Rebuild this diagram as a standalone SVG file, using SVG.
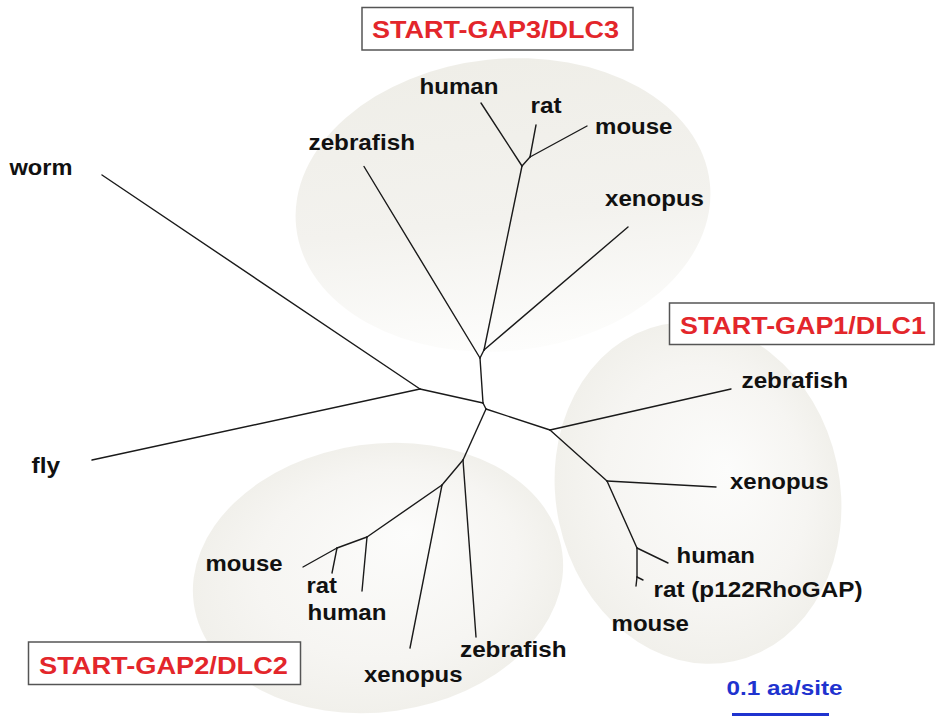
<svg xmlns="http://www.w3.org/2000/svg" width="936" height="723" viewBox="0 0 936 723">
<style>
.lbl{font-family:"Liberation Sans",Arial,Helvetica,sans-serif;font-weight:bold;font-size:22px;fill:#111}
.grp{font-family:"Liberation Sans",Arial,Helvetica,sans-serif;font-weight:bold;font-size:24px;fill:#e3262b}
.box{fill:#fff;stroke:#555;stroke-width:1.5}
.edge{stroke:#1a1a1a;stroke-width:1.4;fill:none;stroke-linecap:round}
.scale{font-family:"Liberation Sans",Arial,Helvetica,sans-serif;font-weight:bold;font-size:21px;fill:#1f33cf}
</style>
<defs>
<linearGradient id="g3" x1="0" y1="0" x2="0" y2="1">
<stop offset="0" stop-color="#efeee8"/><stop offset="0.55" stop-color="#f3f2ee"/><stop offset="1" stop-color="#fdfdfc"/>
</linearGradient>
<radialGradient id="g1" cx="0.5" cy="0.5" r="0.5" fx="0.62" fy="0.45">
<stop offset="0" stop-color="#fcfcfb"/><stop offset="0.7" stop-color="#f6f5f2"/><stop offset="1" stop-color="#f1f0eb"/>
</radialGradient>
<radialGradient id="g2" cx="0.5" cy="0.5" r="0.5" fx="0.6" fy="0.35">
<stop offset="0" stop-color="#fcfcfb"/><stop offset="0.7" stop-color="#f6f5f2"/><stop offset="1" stop-color="#f1f0eb"/>
</radialGradient>
</defs>
<rect width="936" height="723" fill="#fff"/>
<g id="regions">
<ellipse cx="503" cy="205" rx="208" ry="146" transform="rotate(-6 503 205)" fill="url(#g3)"/>
<ellipse cx="698" cy="493" rx="142" ry="172" transform="rotate(-12 698 493)" fill="url(#g1)"/>
<ellipse cx="378" cy="578" rx="186" ry="134" transform="rotate(-8 378 578)" fill="url(#g2)"/>
</g>
<g id="connectors">
<line class="edge" x1="420" y1="389" x2="102" y2="175"/>
<line class="edge" x1="420" y1="389" x2="92" y2="460"/>
<line class="edge" x1="420" y1="389" x2="483" y2="403"/>
<line class="edge" x1="480" y1="358" x2="483" y2="403"/>
<line class="edge" x1="483" y1="403" x2="486" y2="409"/>
<line class="edge" x1="480" y1="358" x2="364" y2="166.5"/>
<line class="edge" x1="480" y1="358" x2="484" y2="350"/>
<line class="edge" x1="484" y1="350" x2="628" y2="227"/>
<line class="edge" x1="484" y1="350" x2="522" y2="166"/>
<line class="edge" x1="522" y1="166" x2="481" y2="103"/>
<line class="edge" x1="522" y1="166" x2="530" y2="157"/>
<line class="edge" x1="530" y1="157" x2="536" y2="125"/>
<line class="edge" x1="530" y1="157" x2="587" y2="126"/>
<line class="edge" x1="486" y1="409" x2="550" y2="430"/>
<line class="edge" x1="550" y1="430" x2="731" y2="389"/>
<line class="edge" x1="550" y1="430" x2="607" y2="481"/>
<line class="edge" x1="607" y1="481" x2="716" y2="487"/>
<line class="edge" x1="607" y1="481" x2="637" y2="548"/>
<line class="edge" x1="637" y1="548" x2="668" y2="563"/>
<line class="edge" x1="637" y1="548" x2="637" y2="577"/>
<line class="edge" x1="637" y1="577" x2="643" y2="580"/>
<line class="edge" x1="637" y1="577" x2="636" y2="586"/>
<line class="edge" x1="486" y1="409" x2="463" y2="460"/>
<line class="edge" x1="463" y1="460" x2="476" y2="637"/>
<line class="edge" x1="463" y1="460" x2="442" y2="485"/>
<line class="edge" x1="442" y1="485" x2="410" y2="648"/>
<line class="edge" x1="442" y1="485" x2="367" y2="537"/>
<line class="edge" x1="367" y1="537" x2="362" y2="591"/>
<line class="edge" x1="367" y1="537" x2="337" y2="548"/>
<line class="edge" x1="337" y1="548" x2="332" y2="573"/>
<line class="edge" x1="337" y1="548" x2="303" y2="567"/>
</g>
<g id="group-dlc3"><rect class="box" x="362" y="7.5" width="271" height="42.5"/><text class="grp" x="372" y="38" textLength="247" lengthAdjust="spacingAndGlyphs">START-GAP3/DLC3</text></g>
<g id="group-dlc1"><rect class="box" x="669.5" y="303" width="264.5" height="41.5"/><text class="grp" x="680" y="333.5" textLength="246" lengthAdjust="spacingAndGlyphs">START-GAP1/DLC1</text></g>
<g id="group-dlc2"><rect class="box" x="28.5" y="642" width="272" height="42.5"/><text class="grp" x="39" y="673.5" textLength="249" lengthAdjust="spacingAndGlyphs">START-GAP2/DLC2</text></g>
<g id="worm"><text class="lbl" x="9.5" y="175" textLength="63" lengthAdjust="spacingAndGlyphs">worm</text></g>
<g id="fly"><text class="lbl" x="31.5" y="473" textLength="28.5" lengthAdjust="spacingAndGlyphs">fly</text></g>
<g id="dlc3-human"><text class="lbl" x="419.5" y="93.5" textLength="79" lengthAdjust="spacingAndGlyphs">human</text></g>
<g id="dlc3-rat"><text class="lbl" x="530.5" y="112.5" textLength="31" lengthAdjust="spacingAndGlyphs">rat</text></g>
<g id="dlc3-mouse"><text class="lbl" x="595" y="134" textLength="77.5" lengthAdjust="spacingAndGlyphs">mouse</text></g>
<g id="dlc3-zebrafish"><text class="lbl" x="308.5" y="149.5" textLength="106.5" lengthAdjust="spacingAndGlyphs">zebrafish</text></g>
<g id="dlc3-xenopus"><text class="lbl" x="605" y="205.5" textLength="99" lengthAdjust="spacingAndGlyphs">xenopus</text></g>
<g id="dlc1-zebrafish"><text class="lbl" x="741.5" y="387.5" textLength="106.5" lengthAdjust="spacingAndGlyphs">zebrafish</text></g>
<g id="dlc1-xenopus"><text class="lbl" x="730" y="488.5" textLength="98.5" lengthAdjust="spacingAndGlyphs">xenopus</text></g>
<g id="dlc1-human"><text class="lbl" x="676.5" y="562.5" textLength="78.5" lengthAdjust="spacingAndGlyphs">human</text></g>
<g id="dlc1-rat"><text class="lbl" x="653.5" y="596.5" textLength="209" lengthAdjust="spacingAndGlyphs">rat (p122RhoGAP)</text></g>
<g id="dlc1-mouse"><text class="lbl" x="611.5" y="631" textLength="77.5" lengthAdjust="spacingAndGlyphs">mouse</text></g>
<g id="dlc2-mouse"><text class="lbl" x="205.5" y="570.5" textLength="77" lengthAdjust="spacingAndGlyphs">mouse</text></g>
<g id="dlc2-rat"><text class="lbl" x="306.5" y="592.5" textLength="30.5" lengthAdjust="spacingAndGlyphs">rat</text></g>
<g id="dlc2-human"><text class="lbl" x="307.5" y="619.5" textLength="79" lengthAdjust="spacingAndGlyphs">human</text></g>
<g id="dlc2-zebrafish"><text class="lbl" x="460" y="656.5" textLength="106.5" lengthAdjust="spacingAndGlyphs">zebrafish</text></g>
<g id="dlc2-xenopus"><text class="lbl" x="364" y="682" textLength="98.5" lengthAdjust="spacingAndGlyphs">xenopus</text></g>
<g id="scale-bar"><text class="scale" x="726.5" y="695" textLength="116" lengthAdjust="spacingAndGlyphs">0.1 aa/site</text><line x1="732" y1="714.5" x2="829" y2="714.5" stroke="#1f33cf" stroke-width="3"/></g>
</svg>
